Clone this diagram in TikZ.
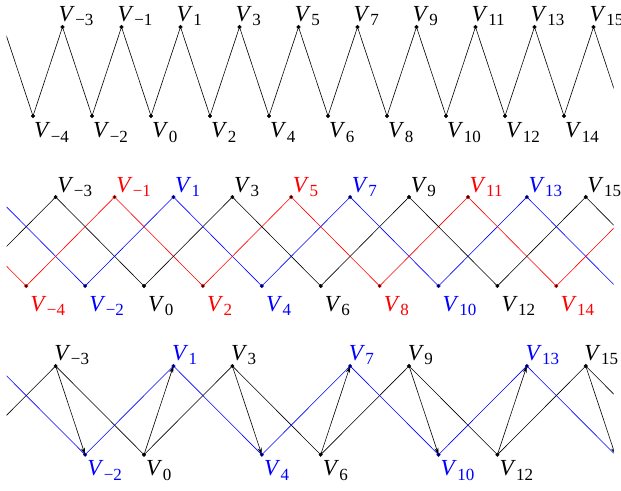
\documentclass[tikz,border=0pt]{standalone}
\usepackage{fontspec}
\setmainfont{Liberation Serif}
\usetikzlibrary{arrows.meta}
\newcommand\vsub[1]{\ifnum#1<0 −\number\numexpr-#1\relax\else#1\fi}
\newcommand\vlab[1]{\fontsize{23}{23}\selectfont\textit{V}\kern0.3pt\raisebox{-4.5pt}{\fontsize{17}{17}\selectfont\vsub{#1}}}
\begin{document}
\begin{tikzpicture}[x=1pt,y=-1pt,
  ln/.style={line width=0.6pt},
  vdot/.style={fill=black,line width=0.4pt},
  toplab/.style={anchor=south west,inner sep=0pt},
  botlab/.style={anchor=north west,inner sep=0pt},
  arr/.style={line width=0.6pt,-{Stealth[length=7pt,width=4pt]}}]
\useasboundingbox (0,0) rectangle (621,490);
% ---- coordinates ----
\foreach \k in {-5,...,16}{
  \pgfmathsetmacro\xx{151+29.5*\k}
  \pgfmathtruncatemacro\od{mod(\k+30,2)}
  \ifnum\od=1 \def\yy{27}\else\def\yy{116}\fi
  \coordinate (a\k) at (\xx,\yy);
}
\foreach \k in {-7,...,18}{
  \pgfmathsetmacro\xx{144+29.45*\k}
  \pgfmathtruncatemacro\od{mod(\k+30,2)}
  \ifnum\od=1 \def\yy{197}\def\yc{366}\else\def\yy{286}\def\yc{454.7}\fi
  \coordinate (b\k) at (\xx,\yy);
  \coordinate (c\k) at (\xx,\yc);
}
% ---- lines (clipped) ----
\begin{scope}
\clip (6.5,0) rectangle (613.5,490);
\foreach \k in {-5,...,15}{
  \pgfmathtruncatemacro\n{\k+1}
  \draw[ln] (a\k) -- (a\n);
}
\foreach \k in {-7,...,15}{
  \pgfmathtruncatemacro\n{\k+3}
  \pgfmathtruncatemacro\m{mod(\k+30,3)}
  \ifcase\m\def\col{black}\or\def\col{blue}\or\def\col{red}\fi
  \draw[ln,\col] (b\k) -- (b\n);
  \ifnum\m<2 \draw[ln,\col] (c\k) -- (c\n);\fi
}
\foreach \k in {-3,0,...,15}{
  \pgfmathtruncatemacro\n{\k+1}
  \draw[arr] (c\k) -- (c\n);
}
\end{scope}
% ---- dots and labels ----
\foreach \k in {-4,...,15}{
  \pgfmathtruncatemacro\od{mod(\k+30,2)}
  \pgfmathtruncatemacro\m{mod(\k+30,3)}
  \ifcase\m\def\col{black}\or\def\col{blue}\or\def\col{red}\fi
  \fill[vdot,draw=black] (a\k) circle (1.8pt);
  \fill[vdot,draw=\col] (b\k) circle (1.8pt);
  \ifnum\m<2 \fill[vdot,draw=\col] (c\k) circle (1.8pt);\fi
  \ifnum\od=1
    \node[toplab,xshift=-4pt,yshift=1pt] (la\k) at (a\k) {\vlab{\k}};
    \node[toplab,text=\col,xshift=1.5pt,yshift=0pt] (lb\k) at (b\k) {\vlab{\k}};
    \ifnum\m<2 \node[toplab,text=\col,xshift=-1.5pt,yshift=1pt] (lc\k) at (c\k) {\vlab{\k}};\fi
  \else
    \node[botlab,xshift=1pt,yshift=-6.5pt] (la\k) at (a\k) {\vlab{\k}};
    \node[botlab,text=\col,xshift=4pt,yshift=-10pt] (lb\k) at (b\k) {\vlab{\k}};
    \ifnum\m<2 \node[botlab,text=\col,xshift=2pt,yshift=-6pt] (lc\k) at (c\k) {\vlab{\k}};\fi
  \fi
}
\end{tikzpicture}
\end{document}
